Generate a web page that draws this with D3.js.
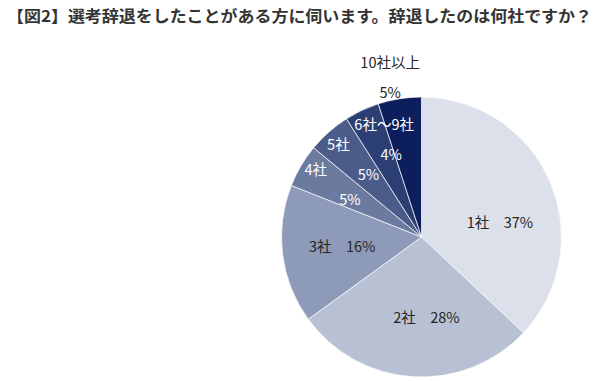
<!DOCTYPE html>
<html>
<head>
<meta charset="utf-8">
<script src="https://cdn.jsdelivr.net/npm/d3@7"></script>
<style>
  html, body { margin: 0; padding: 0; background: #fff; }
  text { font-family: "Noto Sans CJK JP", "Noto Sans", sans-serif; }
</style>
</head>
<body>
<div class="root"></div>
<script>
var titleText = '【図2】選考辞退をしたことがある方に伺います。辞退したのは何社ですか？';
var categories = ['1社', '2社', '3社', '4社', '5社', '6社～9社', '10社以上'];
var values = [37, 28, 16, 5, 5, 4, 5];
var colors = ['#dce0ea', '#b8c1d4', '#8e9bb8', '#6b7b9f', '#4b5c8b', '#2c3f74', '#0c1f5c'];

function runChart() {
  var w = 612;
  var h = 381;
  var cx = 421.5;
  var cy = 237;
  var r = 140;

  var svg = d3.select('.root').append('svg')
    .attr('width', w)
    .attr('height', h);

  svg.append('text')
    .attr('x', 7)
    .attr('y', 22)
    .attr('textLength', 585)
    .attr('lengthAdjust', 'spacingAndGlyphs')
    .style('font-size', '16px')
    .style('font-weight', 'bold')
    .style('fill', '#333')
    .text(titleText);

  var data = categories.map(function(c, i) {
    return {name: c, value: values[i], color: colors[i]};
  });

  var pie = d3.pie()
    .sort(null)
    .value(function(d) { return d.value; });

  var arcs = pie(data);
  var arc = d3.arc().innerRadius(0).outerRadius(r);

  var g = svg.append('g')
    .attr('transform', 'translate(' + cx + ',' + cy + ')');

  g.selectAll('path')
    .data(arcs)
    .enter().append('path')
      .attr('d', arc)
      .attr('fill', function(d) { return d.data.color; })
      .attr('stroke', '#fff')
      .attr('stroke-width', 0.7);

  // label placement: big slices in a single line, small ones as two lines
  var nudge = {'1社': [5, 18], '2社': [10, 1], '6社～9社': [10, -4], '10社以上': [-6, 1]};
  // horizontal shift of name / percent line (excel puts them diagonally)
  var lineShift = {'4社': 17, '5社': 15, '6社～9社': 3.5, '10社以上': 0};

  function labelRadius(d) {
    if (d.data.name === '10社以上') return 162;
    return d.data.value >= 10 ? 80 : 103;
  }

  var labels = g.selectAll('g.lab')
    .data(arcs)
    .enter().append('g')
      .attr('class', 'lab')
      .attr('transform', function(d) {
        var lr = labelRadius(d);
        var p = d3.arc().innerRadius(lr).outerRadius(lr).centroid(d);
        var n = nudge[d.data.name] || [0, 0];
        return 'translate(' + (p[0] + n[0]) + ',' + (p[1] + n[1]) + ')';
      });

  labels.each(function(d) {
    var sel = d3.select(this);
    var inside = d.data.name !== '10社以上';
    var fill = (inside && d.data.value < 10) ? '#fff' : '#262626';
    if (d.data.value >= 10) {
      sel.append('text')
        .attr('text-anchor', 'middle')
        .attr('dy', '0.35em')
        .style('font-size', '14.5px')
        .style('fill', fill)
        .text(d.data.name + '　' + d.data.value + '%');
    } else {
      var s = lineShift[d.data.name] || 0;
      sel.append('text')
        .attr('text-anchor', 'middle')
        .attr('x', -s)
        .attr('y', -15)
        .attr('dy', '0.35em')
        .style('font-size', '14.5px')
        .style('fill', fill)
        .text(d.data.name);
      sel.append('text')
        .attr('text-anchor', 'middle')
        .attr('x', s)
        .attr('y', 15)
        .attr('dy', '0.35em')
        .style('font-size', '14.5px')
        .style('fill', fill)
        .text(d.data.value + '%');
    }
  });
}

window.onload = function() {
  runChart();
}
</script>
</body>
</html>
